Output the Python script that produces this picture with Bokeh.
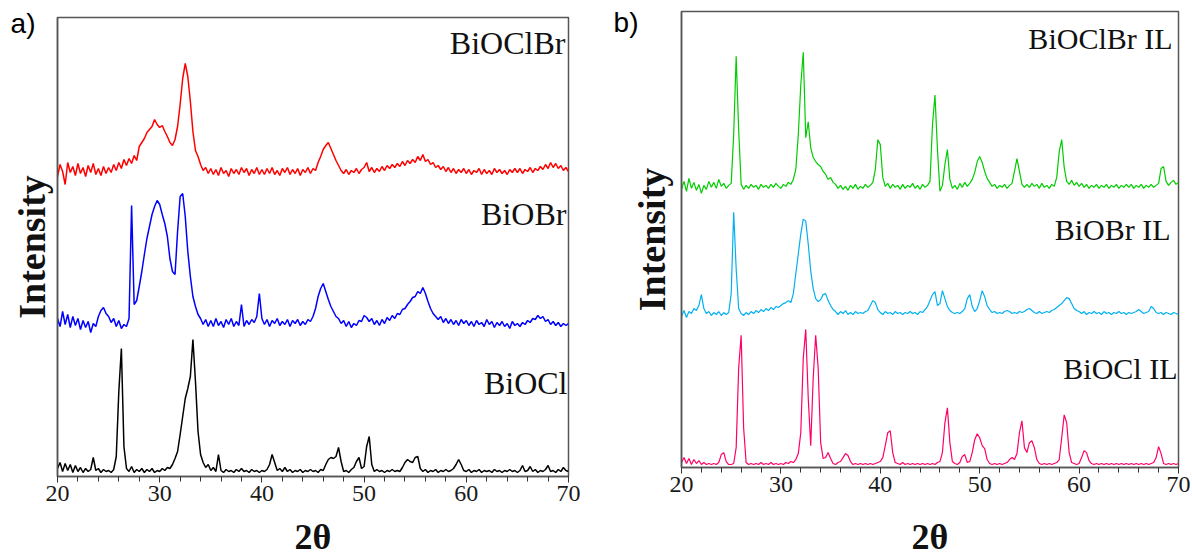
from bokeh.plotting import figure
from bokeh.layouts import row
from bokeh.models import Label, Range1d, SingleIntervalTicker, FixedTicker
from bokeh.embed import file_html
from bokeh.resources import INLINE

# measurement grid, 2-theta in degrees (step 0.25)
two_theta = [round(20 + 0.25 * i, 2) for i in range(201)]

# ---------------- panel a) (stacked intensities, a.u.) ----------------
bioclbr = [
    300, 312, 305, 292, 314, 304, 310, 301, 313, 303, 309, 300, 311, 304, 313, 302, 308, 301, 310, 303,
    309, 304, 312, 306, 314, 308, 317, 311, 318, 313, 321, 316, 330, 334, 338, 344, 347, 350, 357, 352,
    349, 351, 345, 340, 334, 331, 337, 350, 372, 398, 413, 400, 375, 345, 326, 320, 312, 306, 309, 303,
    308, 302, 307, 301, 309, 303, 306, 300, 308, 303, 307, 302, 309, 304, 308, 301, 307, 303, 309, 302,
    307, 302, 308, 303, 309, 302, 306, 301, 308, 304, 309, 302, 307, 303, 308, 301, 307, 304, 309, 303,
    308, 306, 314, 320, 327, 331, 334, 328, 322, 316, 311, 306, 303, 307, 302, 306, 304, 308, 303, 307,
    309, 314, 305, 309, 304, 308, 305, 310, 306, 311, 308, 312, 309, 313, 310, 315, 311, 316, 313, 317,
    314, 320, 316, 322, 315, 317, 312, 314, 309, 311, 307, 310, 305, 309, 304, 308, 303, 307, 304, 308,
    303, 307, 302, 306, 304, 308, 302, 307, 303, 306, 302, 308, 304, 307, 303, 306, 302, 307, 304, 308,
    304, 308, 303, 307, 305, 309, 304, 308, 306, 310, 307, 312, 308, 314, 309, 313, 308, 311, 306, 309,
    305,
]
biobr = [
    158, 150, 165, 152, 162, 149, 160, 151, 158, 147, 156, 149, 155, 144, 153, 150, 160, 166, 169, 163,
    160, 154, 158, 150, 156, 148, 152, 150, 158, 271, 172, 176, 190, 205, 222, 238, 250, 262, 270, 276,
    272, 262, 253, 240, 218, 205, 202, 245, 280, 283, 260, 225, 200, 180, 170, 162, 158, 152, 157, 150,
    156, 150, 158, 151, 155, 149, 157, 152, 158, 150, 155, 151, 172, 150, 156, 152, 157, 154, 160, 183,
    158, 152, 157, 150, 156, 153, 158, 151, 155, 152, 157, 150, 156, 153, 157, 151, 155, 152, 157, 155,
    160, 168, 180, 188, 193, 185, 177, 170, 165, 160, 158, 153, 156, 150, 155, 149, 153, 151, 156, 155,
    161, 159, 155, 158, 152, 156, 151, 157, 153, 159, 156, 161, 158, 163, 162, 167, 168, 172, 175, 179,
    180, 185, 183, 189, 183, 175, 168, 163, 160, 157, 160, 154, 158, 153, 157, 152, 156, 151, 157, 153,
    156, 151, 155, 150, 156, 152, 154, 150, 157, 152, 155, 149, 154, 151, 155, 150, 153, 148, 155, 151,
    153, 150, 154, 152, 156, 154, 158, 157, 161, 158, 160, 155, 157, 152, 155, 151, 154, 150, 153, 151,
    153,
]
biocl = [
    8, 14, 5, 13, 6, 12, 4, 11, 5, 9, 4, 8, 5, 7, 19, 6, 8, 4, 7, 5,
    6, 4, 7, 20, 85, 128, 30, 8, 5, 10, 4, 7, 5, 8, 4, 7, 5, 8, 4, 6,
    5, 8, 6, 9, 8, 12, 18, 25, 42, 60, 78, 88, 100, 137, 95, 45, 22, 14, 9, 12,
    6, 9, 5, 22, 6, 4, 7, 5, 6, 4, 7, 5, 8, 5, 6, 4, 7, 5, 6, 4,
    6, 5, 7, 12, 22, 14, 6, 8, 5, 9, 5, 7, 4, 6, 5, 7, 4, 6, 5, 7,
    5, 6, 4, 7, 6, 12, 17, 19, 18, 20, 29, 15, 5, 6, 4, 7, 9, 15, 19, 8,
    10, 30, 40, 12, 5, 7, 5, 6, 4, 6, 5, 7, 5, 6, 5, 9, 14, 17, 15, 14,
    19, 20, 8, 5, 7, 4, 6, 5, 7, 4, 6, 5, 7, 5, 6, 8, 12, 17, 12, 6,
    5, 7, 4, 6, 5, 7, 4, 6, 5, 6, 4, 7, 5, 6, 4, 6, 5, 7, 5, 6,
    4, 6, 11, 5, 6, 10, 5, 7, 4, 6, 5, 7, 11, 5, 6, 4, 7, 5, 9, 6,
    5,
]

# ---------------- panel b) (stacked intensities, a.u.) ----------------
bioclbr_il = [
    280, 288, 278, 291, 281, 287, 279, 285, 276, 284, 280, 288, 282, 287, 281, 290, 283, 286, 281, 284,
    286, 335, 414, 340, 285, 280, 284, 281, 285, 282, 284, 280, 285, 282, 284, 281, 285, 282, 286, 283,
    281, 285, 283, 287, 285, 290, 300, 335, 385, 418, 332, 348, 322, 312, 308, 305, 303, 298, 295, 290,
    292, 287, 285, 281, 284, 280, 283, 279, 284, 281, 285, 280, 283, 281, 285, 282, 284, 287, 300, 330,
    325, 292, 283, 286, 281, 285, 282, 284, 280, 285, 281, 284, 282, 286, 281, 284, 280, 285, 282, 284,
    288, 345, 375, 320, 278, 284, 305, 320, 290, 281, 284, 280, 286, 282, 287, 283, 286, 290, 297, 308,
    313, 307, 298, 291, 287, 283, 285, 281, 284, 282, 285, 281, 284, 286, 298, 311, 298, 285, 282, 285,
    282, 286, 283, 285, 281, 286, 282, 284, 281, 285, 283, 292, 318, 330, 302, 288, 285, 289, 284, 287,
    283, 286, 282, 285, 281, 284, 282, 285, 281, 284, 282, 285, 281, 284, 282, 285, 281, 284, 282, 285,
    282, 285, 281, 284, 282, 285, 281, 284, 282, 285, 282, 284, 286, 301, 303, 288, 284, 287, 289, 285,
    287,
]
biobr_il = [
    152, 158, 151, 157, 155, 160, 158, 163, 174, 160, 155, 157, 153, 156, 154, 157, 153, 156, 154, 156,
    175, 257, 200, 160, 155, 153, 156, 154, 157, 155, 158, 156, 159, 157, 160, 158, 161, 159, 162, 161,
    163, 165, 166, 168, 166, 175, 195, 215, 235, 250, 248, 225, 198, 180, 170, 167, 169, 174, 175, 168,
    163, 159, 157, 154, 157, 155, 158, 154, 156, 154, 157, 155, 156, 155, 157, 158, 163, 168, 166, 159,
    156, 154, 157, 155, 156, 154, 157, 155, 156, 154, 156, 155, 157, 155, 156, 154, 157, 156, 159, 162,
    168, 174, 177, 163, 165, 178, 170, 162, 158, 156, 155, 156, 155, 157, 160, 170, 174, 162, 157, 160,
    168, 178, 172, 163, 159, 156, 157, 155, 156, 155, 157, 158, 157, 155, 156, 155, 157, 156, 157, 159,
    160, 158, 156, 155, 157, 155, 156, 157, 156, 158, 159, 161, 163, 165, 168, 171, 170, 165, 160, 158,
    157, 155, 157, 154, 156, 155, 157, 155, 156, 154, 157, 155, 156, 154, 156, 155, 157, 155, 156, 154,
    156, 155, 156, 157, 159, 157, 155, 156, 157, 162, 160, 156, 155, 156, 154, 156, 155, 154, 156, 155,
    154,
]
biocl_il = [
    5, 10, 4, 9, 3, 8, 4, 7, 3, 5, 3, 4, 3, 4, 3, 5, 13, 15, 6, 3,
    3, 4, 20, 100, 133, 40, 5, 3, 4, 3, 4, 3, 5, 3, 4, 3, 5, 3, 4, 3,
    4, 3, 5, 4, 6, 5, 8, 14, 35, 110, 139, 70, 22, 90, 133, 100, 25, 9, 10, 15,
    9, 4, 3, 5, 6, 10, 14, 12, 6, 3, 4, 3, 4, 3, 4, 3, 4, 3, 4, 5,
    6, 10, 22, 35, 37, 15, 5, 4, 3, 5, 3, 4, 3, 4, 3, 4, 3, 4, 3, 4,
    3, 4, 3, 5, 6, 15, 45, 60, 25, 6, 4, 3, 5, 11, 13, 5, 6, 15, 28, 34,
    30, 22, 19, 8, 4, 3, 4, 3, 4, 3, 4, 5, 8, 10, 8, 14, 35, 47, 20, 15,
    25, 27, 20, 8, 4, 3, 4, 3, 4, 3, 4, 5, 8, 30, 53, 45, 15, 5, 4, 3,
    4, 10, 17, 15, 7, 4, 3, 4, 3, 4, 3, 4, 3, 4, 3, 4, 3, 4, 3, 4,
    3, 4, 3, 4, 3, 4, 3, 4, 3, 4, 5, 10, 21, 14, 4, 3, 4, 3, 4, 3,
    4,
]

names_a = ["BiOClBr", "BiOBr", "BiOCl"]
names_b = ["BiOClBr IL", "BiOBr IL", "BiOCl IL"]
colors_a = ["#ff0000", "#0000ff", "#000000"]
colors_b = ["#00cc00", "#00b0f0", "#ff0066"]

SERIF = "Liberation Serif"
SANS = "Liberation Sans"


def make_panel(width, height, borders, series, colors, names, name_pos, name_size,
               tag, tag_y, tag_standoff, ylab_standoff, xlab_standoff, lw):
    left, right, top, bottom = borders
    p = figure(width=width, height=height, output_backend="svg", toolbar_location=None,
               x_range=Range1d(20, 70), y_range=Range1d(0, 459),
               min_border_left=left, min_border_right=right,
               min_border_top=top, min_border_bottom=bottom,
               frame_align=False)
    p.background_fill_color = "white"
    p.border_fill_color = "white"
    p.outline_line_color = "#555555"
    p.outline_line_width = 1.5
    p.xgrid.visible = False
    p.ygrid.visible = False

    for ys, c in zip(series, colors):
        p.line(two_theta, ys, line_color=c, line_width=lw)

    xa = p.xaxis[0]
    xa.ticker = SingleIntervalTicker(interval=10, num_minor_ticks=5)
    xa.axis_line_color = "#555555"
    xa.axis_line_width = 1.5
    xa.major_tick_in = 0
    xa.major_tick_out = 6
    xa.minor_tick_in = 0
    xa.minor_tick_out = 5
    xa.major_tick_line_color = "#333333"
    xa.minor_tick_line_color = "#333333"
    xa.major_label_text_font = SERIF
    xa.major_label_text_font_size = "24px"
    xa.major_label_text_color = "#1a1a1a"
    xa.major_label_standoff = 3
    xa.axis_label = "2θ"
    xa.axis_label_text_font = SERIF
    xa.axis_label_text_font_style = "bold"
    xa.axis_label_text_font_size = "36px"
    xa.axis_label_text_color = "#111111"
    xa.axis_label_standoff = xlab_standoff

    # left axis: no ticks; the panel tag ("a)" / "b)") is its only label
    ya = p.yaxis[0]
    ya.ticker = FixedTicker(ticks=[tag_y])
    ya.major_label_overrides = {tag_y: tag}
    ya.major_label_text_font = SANS
    ya.major_label_text_font_size = "28px"
    ya.major_label_text_color = "black"
    ya.major_label_standoff = tag_standoff
    ya.major_tick_in = 0
    ya.major_tick_out = 0
    ya.minor_tick_in = 0
    ya.minor_tick_out = 0
    ya.axis_line_color = "#555555"
    ya.axis_line_width = 1.5
    ya.axis_label = "Intensity"
    ya.axis_label_text_font = SERIF
    ya.axis_label_text_font_style = "bold"
    ya.axis_label_text_font_size = "38px"
    ya.axis_label_text_color = "#111111"
    ya.axis_label_standoff = ylab_standoff

    for nm, (nx, ny) in zip(names, name_pos):
        p.add_layout(Label(x=nx, y=ny, text=nm, text_align="right", text_baseline="middle",
                           text_font=SERIF, text_font_size=name_size, text_color="#111111"))
    return p


p1 = make_panel(600, 559, (57, 32, 17, 83), [bioclbr, biobr, biocl], colors_a, names_a,
                [(69.7, 434), (69.8, 263), (69.9, 94)], "32px",
                "a)", 453, 22, -45, 13, 1.5)
p2 = make_panel(592, 559, (81, 14, 11, 89), [bioclbr_il, biobr_il, biocl_il], colors_b, names_b,
                [(69.4, 432), (69.2, 240), (69.9, 100)], "30px",
                "b)", 448, 43, -62, 22, 1.2)

layout = row(p1, p2, spacing=0)
open("out.html", "w").write(file_html(layout, INLINE))
